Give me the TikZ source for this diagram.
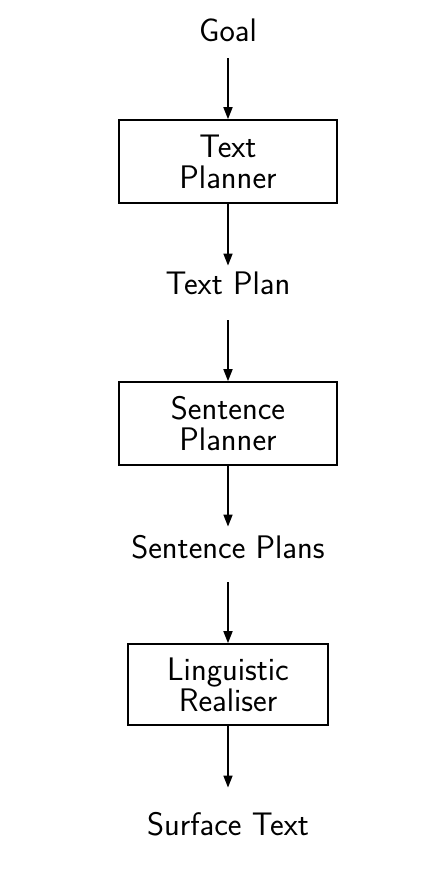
\documentclass[tikz,border=0pt]{standalone}
\usetikzlibrary{arrows.meta}
\begin{document}
\begin{tikzpicture}[x=0.5pt,y=-0.5pt,
  every node/.style={font=\sffamily\fontsize{16.3}{15.6}\selectfont},
  lbl/.style={inner sep=0pt,anchor=base,text height=10pt,text depth=0pt},
  procbox/.style={draw,line width=0.8pt,inner sep=0pt,align=center,minimum width=109pt,minimum height=41.5pt},
  flow/.style={line width=0.8pt,-{Triangle[length=6pt,width=4.5pt]}}]
\useasboundingbox (0,0) rectangle (447,890);
\node[lbl] (goal) at (228,41) {Goal};
\node[procbox] (tp) at (228,161.5) {Text\\Planner};
\node[lbl] (plan) at (228,294) {Text Plan};
\node[procbox] (sp) at (228,423.5) {Sentence\\Planner};
\node[lbl] (splans) at (228,558.5) {Sentence Plans};
\node[procbox,minimum width=100pt,minimum height=40.5pt] (lr) at (228,684.5) {Linguistic\\Realiser};
\node[lbl] (surf) at (228,835) {Surface Text};
\draw[flow,shorten <=8.5pt] (goal.south) -- (tp.north);
\draw[flow,shorten >=4pt] (tp.south) -- (plan.north);
\draw[flow,shorten <=13pt] (plan.south) -- (sp.north);
\draw[flow,shorten >=5.75pt] (sp.south) -- (splans.north);
\draw[flow,shorten <=11.75pt] (splans.south) -- (lr.north);
\draw[flow,shorten >=13.5pt] (lr.south) -- (surf.north);
\end{tikzpicture}
\end{document}
